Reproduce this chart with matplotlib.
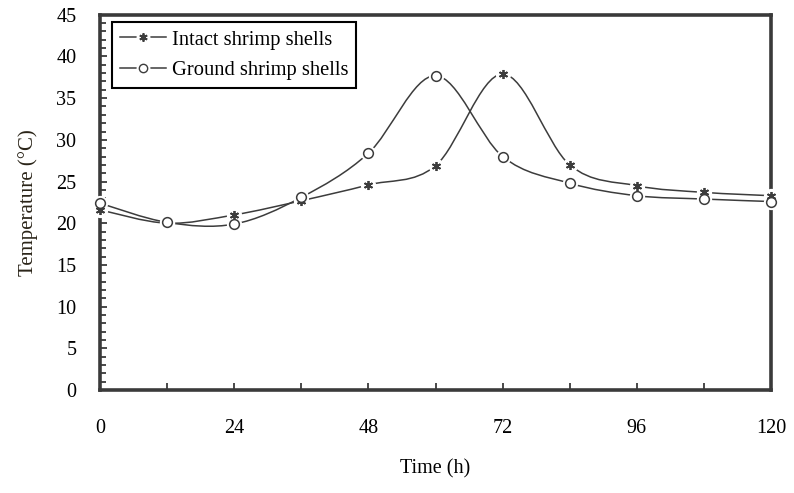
import numpy as np
import matplotlib.pyplot as plt
from matplotlib.path import Path
from matplotlib.patches import PathPatch
from matplotlib.lines import Line2D

plt.rcParams['font.family'] = ['Liberation Serif', 'DejaVu Serif']

# data
time_h = [0, 12, 24, 36, 48, 60, 72, 84, 96, 108, 120]
intact = [21.6, 20.0, 21.0, 22.7, 24.6, 26.9, 37.9, 27.0, 24.5, 23.7, 23.3]
ground = [22.4, 20.1, 19.9, 23.1, 28.4, 37.7, 28.0, 24.8, 23.3, 22.9, 22.6]

xticks = [0, 24, 48, 72, 96, 120]
line_col = '#3c3c3c'
frame_col = '#3a3a3a'


def smooth_path(x, y):
	# excel-like smoothed line (catmull-rom as cubic bezier)
	pts = np.column_stack([x, y]).astype(float)
	n = len(pts)
	verts = [pts[0]]
	codes = [Path.MOVETO]
	for i in range(n - 1):
		p0 = pts[max(i - 1, 0)]
		p1 = pts[i]
		p2 = pts[i + 1]
		p3 = pts[min(i + 2, n - 1)]
		c1 = p1 + (p2 - p0) / 6.0
		c2 = p2 - (p3 - p1) / 6.0
		verts += [c1, c2, p2]
		codes += [Path.CURVE4] * 3
	return Path(verts, codes)


fig = plt.figure(figsize=(7.94, 4.93), dpi=100)
ax = fig.add_axes([0.126, 0.209, 0.845, 0.761])

for ys in (intact, ground):
	ax.add_patch(PathPatch(smooth_path(time_h, ys), facecolor='none',
		edgecolor=line_col, lw=1.1, zorder=2))

# white halo behind markers (gives the gaps in the lines)
ax.plot(time_h, intact, ls='none', marker='o', ms=10, mfc='white', mec='white',
	zorder=3, clip_on=False)
ax.plot(time_h, ground, ls='none', marker='o', ms=10, mfc='white', mec='white',
	zorder=3, clip_on=False)
ax.plot(time_h, intact, ls='none', marker=(6, 2, 0), ms=6.5, mec=line_col, mew=1.3,
	zorder=4, clip_on=False)
ax.plot(time_h, ground, ls='none', marker='o', ms=7, mfc='white', mec=line_col,
	mew=1.1, zorder=4, clip_on=False)

ax.set_xlim(0, 120)
ax.set_ylim(0, 45)
ax.set_xticks(xticks)
ax.set_xticks(range(0, 121, 12), minor=True)
ax.set_yticks(range(0, 46, 5))
ax.set_yticks(range(0, 46, 1), minor=True)
ax.tick_params(axis='both', which='both', direction='in', color=frame_col,
	width=1.3, labelsize=14.5)
ax.tick_params(axis='y', which='major', length=5, pad=17)
ax.tick_params(axis='y', which='minor', length=4)
ax.tick_params(axis='x', which='major', length=5, pad=21)
ax.tick_params(axis='x', which='minor', length=5)
for s in ax.spines.values():
	s.set_linewidth(2.6)
	s.set_color(frame_col)
	s.set_zorder(2.5)

ax.set_xlabel('Time (h)', fontsize=14.5, labelpad=15)
ax.set_ylabel('Temperature (°C)', fontsize=15, labelpad=13, color='#2a2418')

seg = dict(color=line_col, lw=1.1)
halo = dict(ls='none', marker='o', ms=9, mfc='white', mec='white')
h_intact = (Line2D([], [], **seg), Line2D([], [], **halo),
	Line2D([], [], ls='none', marker=(6, 2, 0), ms=6, mec=line_col, mew=1.3))
h_ground = (Line2D([], [], **seg), Line2D([], [], **halo),
	Line2D([], [], ls='none', marker='o', ms=6, mfc='white', mec=line_col))
leg = ax.legend([h_intact, h_ground], ['Intact shrimp shells', 'Ground shrimp shells'],
	loc='upper left', bbox_to_anchor=(0.018, 0.981), borderaxespad=0,
	fancybox=False, framealpha=1, edgecolor='black', fontsize=14.8,
	handlelength=2.2, handletextpad=0.3, borderpad=0.4, labelspacing=0.55)
leg.get_frame().set_linewidth(1.5)

fig.savefig('out.png', dpi=100)
